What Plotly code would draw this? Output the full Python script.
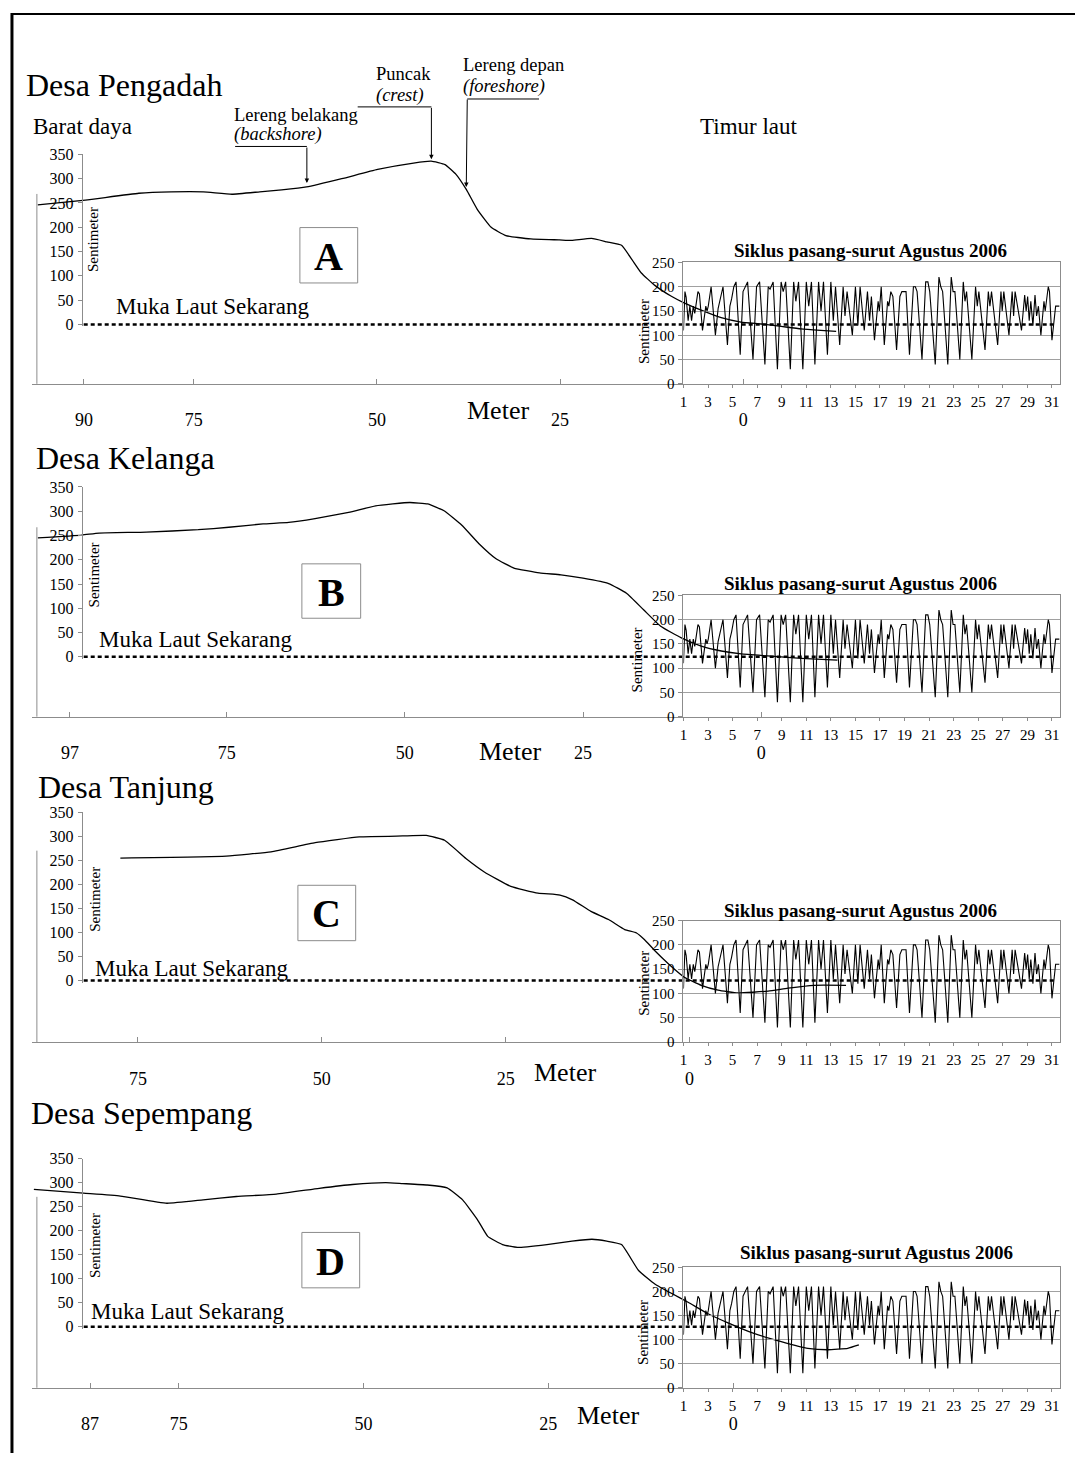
import plotly.graph_objects as go

W, H = 1075, 1461
SERIF = "Liberation Serif, Times New Roman, serif"
GREY = "#8c8c8c"

# ---------------- data ----------------
TIDE_TITLE = "Siklus pasang-surut Agustus 2006"
TIDE_DAY = [1.00, 1.12, 1.22, 1.38, 1.52, 1.66, 1.80, 1.92,
            2.18, 2.30, 2.55, 2.72, 2.82, 2.92, 3.02, 3.25,
            3.60, 3.82, 3.95, 4.22, 4.58, 4.78, 4.92, 5.10, 5.28,
            5.62, 5.85, 6.05, 6.22, 6.66, 6.95, 7.20,
            7.63, 7.90, 8.05, 8.30, 8.65, 8.95, 9.12, 9.32,
            9.70, 9.97, 10.15, 10.37, 10.72, 11.00, 11.20, 11.42,
            11.70, 12.00, 12.20, 12.40, 12.72, 13.00, 13.20, 13.38,
            13.72, 14.00, 14.15, 14.32, 14.75, 15.00, 15.20, 15.38,
            15.72, 15.98, 16.15, 16.30, 16.55, 16.85, 16.95, 17.10,
            17.35, 17.62, 17.72, 17.88, 18.05, 18.35, 18.62, 18.78, 19.12,
            19.40, 19.72, 19.88, 20.02, 20.42, 20.72, 20.90, 21.05,
            21.50, 21.80, 21.95, 22.10, 22.52, 22.80, 22.95, 23.10,
            23.50, 23.78, 23.92, 24.05, 24.48, 24.78, 24.92, 25.05,
            25.55, 25.82, 25.95, 26.08, 26.58, 26.85, 26.95, 27.08,
            27.50, 27.76, 27.88, 28.00, 28.52, 28.78, 28.90, 29.02, 29.15, 29.28,
            29.45, 29.62, 29.75, 29.90, 30.10, 30.35, 30.45, 30.70, 30.80,
            31.00, 31.30, 31.60]
TIDE_CM = [110, 190, 178, 130, 160, 130, 160, 145,
           190, 185, 110, 150, 160, 150, 160, 200,
           100, 155, 170, 200, 80, 160, 175, 200, 210,
           60, 190, 200, 210, 50, 200, 210,
           40, 200, 195, 210, 30, 210, 190, 210,
           30, 210, 170, 210, 30, 210, 160, 210,
           40, 210, 150, 210, 60, 210, 130, 200,
           80, 200, 140, 190, 100, 200, 120, 200,
           110, 190, 130, 180, 90, 170, 150, 200,
           80, 170, 160, 190, 180, 70, 180, 190, 190,
           60, 200, 200, 190, 50, 210, 210, 190,
           40, 220, 200, 190, 40, 220, 190, 190,
           50, 210, 170, 190, 50, 200, 160, 190,
           70, 190, 160, 190, 80, 190, 150, 190,
           100, 190, 140, 190, 110, 183, 150, 180, 130, 170,
           120, 183, 140, 160, 100, 170, 150, 200, 190,
           90, 160, 160]

A_M = [96.3, 89.8, 82.5, 78.1, 73.7, 69.8, 66.0, 63.0, 59.6, 54.8, 49.9, 45.0, 42.6,
       40.7, 39.2, 37.8, 36.3, 34.4, 32.4, 29.0, 25.1, 23.4, 20.7, 18.6, 16.6, 15.2,
       13.9, 12.1, 9.8, 8.0, 5.3, 3.0, 0.3, -2.5, -5.2, -7.9, -10.6, -12.7]
A_CM = [246, 256, 270, 273, 273, 268, 273, 277, 283, 300, 319, 332, 336,
        329, 309, 278, 237, 200, 183, 176, 174, 173, 177, 170, 163, 134,
        106, 81, 58, 44, 27, 14, 5, 1, -4, -9, -12, -14]

B_M = [101.5, 95.3, 92.9, 86.3, 79.0, 74.7, 69.9, 66.3, 62.6, 57.7, 54.1, 49.3, 46.8,
       44.5, 42.0, 39.6, 37.2, 34.7, 31.1, 28.1, 25.0, 21.4, 18.9, 16.5, 14.1, 11.2,
       8.4, 5.6, 2.8, -0.9, -5.6, -10.7]
B_CM = [245, 251, 255, 257, 262, 267, 274, 277, 285, 298, 311, 318, 315,
        301, 271, 233, 202, 183, 173, 169, 162, 151, 131, 97, 63, 39,
        22, 12, 6, 2, -3, -7]

C_M = [77.4, 63.0, 56.9, 50.9, 44.9, 39.0, 35.8, 33.3, 30.4, 27.9, 24.3, 20.6, 17.6,
       15.9, 13.4, 11.0, 8.8, 7.2, 6.1, 4.7, 2.8, 0.7, -1.6, -3.9, -6.6, -10.7,
       -13.4, -16.9, -21.3]
C_CM = [255, 259, 268, 287, 299, 301, 302, 292, 254, 226, 196, 182, 178,
        168, 144, 127, 106, 99, 85, 62, 34, 7, -10, -20, -26, -22,
        -16, -10, -10]

D_M = [94.6, 87.9, 82.9, 76.6, 71.7, 67.2, 61.8, 56.0, 51.5, 47.0, 44.7, 41.4, 38.7,
       36.6, 34.6, 33.2, 31.2, 29.2, 25.2, 21.8, 19.1, 17.1, 15.1, 12.8, 10.6, 8.3,
       6.1, 3.4, 0.7, -2.8, -6.5, -10.1, -12.8, -15.5, -17.0]
D_CM = [286, 278, 272, 257, 264, 271, 276, 288, 296, 300, 298, 295, 289,
        264, 223, 188, 171, 165, 171, 178, 182, 178, 171, 117, 89, 69,
        51, 27, 8, -14, -31, -45, -48, -45, -38]

PANEL_NAMES = ["Desa Pengadah", "Desa Kelanga", "Desa Tanjung", "Desa Sepempang"]
PANEL_LETTERS = ["A", "B", "C", "D"]
PROFILE_M = [A_M, B_M, C_M, D_M]
PROFILE_CM = [A_CM, B_CM, C_CM, D_CM]
METER_TICKS = [[90, 75, 50, 25, 0], [97, 75, 50, 25, 0], [75, 50, 25, 0], [87, 75, 50, 25, 0]]
CM_TICKS = [0, 50, 100, 150, 200, 250, 300, 350]
TIDE_TICKS = [0, 50, 100, 150, 200, 250]
DAY_TICKS = list(range(1, 32, 2))
SEA_LEVEL_CM = 0
DAY_RANGE = [1, 31.66]

# ---------------- layout geometry (pixels) ----------------
GEO = [
    dict(x0=741.9, s=7.352, zero=320.0, top=148.0, bottom=380.0, ttop=257.3,
         title=(20, 78), sea=(110, 302), box=(297, 222, 355, 278), frame=188,
         sent=(90, 234), meter=(496, 407), tsent=(643, 327), ttitle=(870, 245)),
    dict(x0=760.0, s=7.153, zero=656.0, top=484.3, bottom=716.5, ttop=594.0,
         title=(30, 455), sea=(93, 638), box=(299, 562, 358, 617), frame=525,
         sent=(90, 573), meter=(508, 752), tsent=(635, 659), ttitle=(860, 582)),
    dict(x0=688.0, s=7.38, zero=983.3, top=813.3, bottom=1045.5, ttop=922.7,
         title=(32, 788), sea=(89, 971), box=(295, 887, 353, 943), frame=852,
         sent=(91, 901), meter=(563, 1076), tsent=(643, 986), ttitle=(860, 912)),
    dict(x0=731.9, s=7.42, zero=1333.3, top=1163.3, bottom=1395.0, ttop=1273.3,
         title=(25, 1117), sea=(85, 1318), box=(299, 1238, 357, 1294), frame=1202,
         sent=(92, 1251), meter=(606, 1423), tsent=(642, 1339), ttitle=(876, 1258)),
]


def fx(px):
    return px / W


def fy(py):
    return 1 - py / H


def akey(letter, n):
    return f"{letter}axis" if n == 1 else f"{letter}axis{n}"


def aref(letter, n):
    return letter if n == 1 else f"{letter}{n}"


def ann(text, x, y, size, xanchor="left", yanchor="middle", angle=0):
    return dict(text=text, x=fx(x), y=fy(y), xref="paper", yref="paper", showarrow=False,
                font=dict(family=SERIF, size=size, color="black"),
                xanchor=xanchor, yanchor=yanchor, textangle=angle)


def pline(x0, y0, x1, y1, color=GREY, width=1):
    return dict(type="line", xref="paper", yref="paper", x0=fx(x0), y0=fy(y0),
                x1=fx(x1), y1=fy(y1), line=dict(color=color, width=width))


fig = go.Figure()
layout = {}
annotations = []
shapes = []

for i, g in enumerate(GEO):
    xp, xd = 2 * i + 1, 2 * i + 2
    yp, yt, yd = 3 * i + 1, 3 * i + 2, 3 * i + 3
    k = (g["zero"] - g["top"]) / 350.0

    def m_of(px, g=g):
        return (g["x0"] - px) / g["s"]

    def v_of(py, g=g, k=k):
        return (g["zero"] - py) / k

    # profile line
    fig.add_trace(go.Scatter(x=PROFILE_M[i], y=PROFILE_CM[i], mode="lines",
                             line=dict(color="black", width=1.3, shape="spline", smoothing=0.4),
                             xaxis=aref("x", xp), yaxis=aref("y", yp),
                             showlegend=False, hoverinfo="skip"))
    # present sea level (dashed)
    fig.add_trace(go.Scatter(x=[m_of(80), m_of(1055)], y=[SEA_LEVEL_CM, SEA_LEVEL_CM],
                             mode="lines", line=dict(color="black", width=2.5, dash="4px,3px"),
                             xaxis=aref("x", xp), yaxis=aref("y", yt),
                             showlegend=False, hoverinfo="skip"))
    # tide
    fig.add_trace(go.Scatter(x=TIDE_DAY, y=TIDE_CM, mode="lines",
                             line=dict(color="black", width=1.1),
                             xaxis=aref("x", xd), yaxis=aref("y", yd),
                             showlegend=False, hoverinfo="skip"))

    layout[akey("x", xp)] = dict(
        domain=[fx(28), fx(1060)], range=[m_of(28), m_of(1060)], anchor=aref("y", yp),
        showline=True, linecolor=GREY, linewidth=1, ticks="inside", ticklen=5, tickcolor=GREY,
        tickvals=METER_TICKS[i], ticktext=[str(t) for t in METER_TICKS[i]],
        tickfont=dict(family=SERIF, size=18, color="black"), ticklabelstandoff=20,
        showgrid=False, zeroline=False, fixedrange=True)
    layout[akey("y", yp)] = dict(
        domain=[fy(g["bottom"]), fy(g["top"] - 30)], range=[v_of(g["bottom"]), v_of(g["top"] - 30)],
        anchor=aref("x", xp), visible=False, fixedrange=True)
    layout[akey("y", yt)] = dict(
        domain=[fy(g["zero"] + 2), fy(g["top"])], range=[v_of(g["zero"] + 2), 350],
        anchor="free", position=fx(78), showline=True, linecolor=GREY, linewidth=1,
        ticks="outside", ticklen=4, tickcolor=GREY, tickvals=CM_TICKS,
        tickfont=dict(family=SERIF, size=16, color="black"), ticklabelstandoff=1,
        showgrid=False, zeroline=False, fixedrange=True)
    layout[akey("x", xd)] = dict(
        domain=[fx(682), fx(1060)], range=DAY_RANGE, anchor=aref("y", yd),
        showline=True, mirror=True, linecolor=GREY, linewidth=1, ticks="outside", ticklen=3,
        tickcolor=GREY, tickvals=DAY_TICKS, tickfont=dict(family=SERIF, size=15, color="black"),
        ticklabelstandoff=1, showgrid=False, zeroline=False, fixedrange=True)
    layout[akey("y", yd)] = dict(
        domain=[fy(g["bottom"]), fy(g["ttop"])], range=[0, 250], anchor=aref("x", xd),
        showline=True, mirror=True, linecolor=GREY, linewidth=1, showgrid=True,
        gridcolor="#a0a0a0", gridwidth=1, ticks="outside", ticklen=4, tickcolor=GREY,
        tickvals=TIDE_TICKS, tickfont=dict(family=SERIF, size=15, color="black"),
        ticklabelstandoff=1, zeroline=False, fixedrange=True)

    # texts
    annotations.append(ann(PANEL_NAMES[i], g["title"][0], g["title"][1], 32))
    annotations.append(ann("Muka Laut Sekarang", g["sea"][0], g["sea"][1], 23))
    annotations.append(ann("Sentimeter", g["sent"][0], g["sent"][1], 15, xanchor="center", angle=-90))
    annotations.append(ann("Meter", g["meter"][0], g["meter"][1], 26, xanchor="center"))
    annotations.append(ann("Sentimeter", g["tsent"][0], g["tsent"][1], 15, xanchor="center", angle=-90))
    annotations.append(ann("<b>" + TIDE_TITLE + "</b>", g["ttitle"][0], g["ttitle"][1], 19, xanchor="center"))
    bx0, by0, bx1, by1 = g["box"]
    shapes.append(dict(type="rect", xref="paper", yref="paper", x0=fx(bx0), y0=fy(by1),
                       x1=fx(bx1), y1=fy(by0), line=dict(color=GREY, width=1)))
    annotations.append(ann("<b>" + PANEL_LETTERS[i] + "</b>", (bx0 + bx1) / 2, (by0 + by1) / 2 + 1,
                           40, xanchor="center"))
    # frame left side of the profile chart
    shapes.append(pline(33, g["frame"], 33, g["bottom"]))

# panel A orientation labels and leader annotations
annotations += [
    ann("Barat daya", 27, 120, 23),
    ann("Timur laut", 697, 120, 23),
    ann("Lereng belakang", 229, 108, 18.5),
    ann("<i>(backshore)</i>", 229, 128, 18.5),
    ann("Puncak", 371, 67, 18.5),
    ann("<i>(crest)</i>", 371, 88, 18.5),
    ann("Lereng depan", 459, 58, 18.5),
    ann("<i>(foreshore)</i>", 459, 79, 18.5),
]
for (hx0, hx1, hy, tipx, tipy) in [(232, 304, 140, 304, 177), (355, 429, 100, 429, 153),
                                   (537, 465, 92, 464, 181)]:
    shapes.append(pline(hx0, hy, hx1, hy, color="black", width=1))
    annotations.append(dict(text="", x=fx(tipx), y=fy(tipy), xref="paper", yref="paper",
                            showarrow=True, ax=hx1 - tipx, ay=hy - tipy, axref="pixel", ayref="pixel",
                            arrowhead=2, arrowsize=0.9, arrowwidth=1, arrowcolor="black"))

# outer figure border
shapes.append(pline(8, 5, 8, H, color="black", width=3))
shapes.append(pline(8, 6, W, 6, color="black", width=2))

fig.update_layout(
    width=W, height=H, margin=dict(l=0, r=0, t=0, b=0),
    paper_bgcolor="white", plot_bgcolor="rgba(0,0,0,0)",
    showlegend=False, hovermode=False,
    font=dict(family=SERIF, color="black"),
    annotations=annotations, shapes=shapes,
    **layout,
)

PIN_SCRIPT = (
    "var d=document.getElementById('{plot_id}');"
    "d.style.position='fixed';d.style.left='0px';d.style.top='0px';"
    "document.documentElement.style.margin='0';document.body.style.margin='0';"
    "document.documentElement.style.overflow='hidden';document.body.style.overflow='hidden';"
)
fig.write_html("out.html", config={"displayModeBar": False}, post_script=PIN_SCRIPT)
